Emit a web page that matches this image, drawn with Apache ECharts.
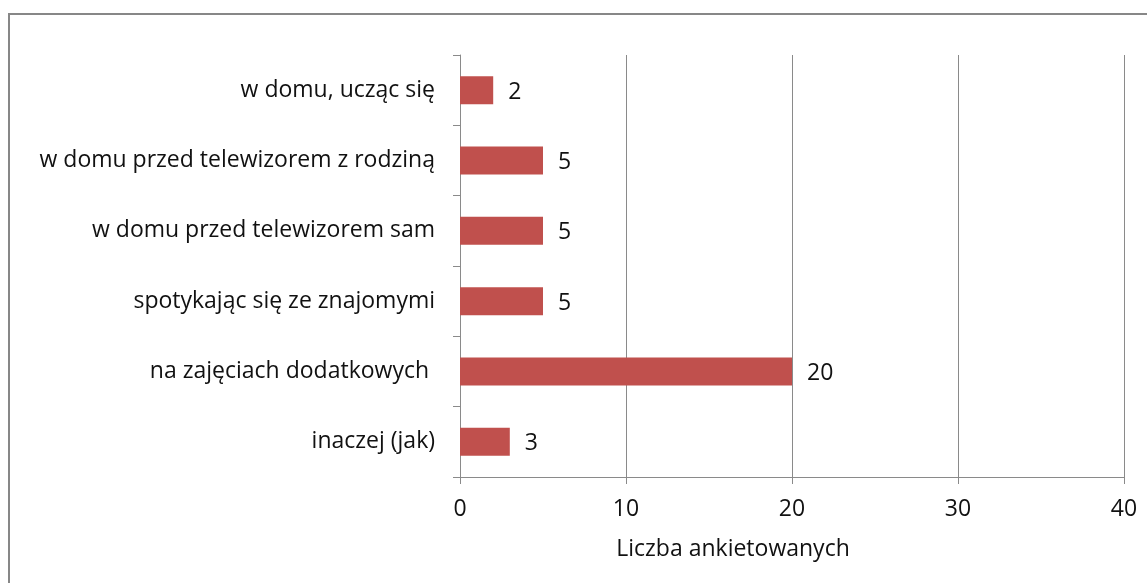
<!DOCTYPE html>
<html>
<head>
<meta charset="utf-8">
<script src="https://cdn.jsdelivr.net/npm/echarts@6/dist/echarts.min.js"></script>
<style>
  html, body { margin: 0; padding: 0; background: #fff; overflow: hidden; }
  #chart { position: absolute; left: 0; top: 0; width: 1147px; height: 583px; }
  #frame { position: absolute; left: 8px; top: 13px; width: 1300px; height: 800px;
           border-top: 2px solid #878787; border-left: 2px solid #878787; pointer-events: none; }
</style>
</head>
<body>
<div id="chart"></div>
<div id="frame"></div>
<script>
const categories = ['w domu, ucząc się', 'w domu przed telewizorem z rodziną', 'w domu przed telewizorem sam',
    'spotykając się ze znajomymi', 'na zajęciach dodatkowych ', 'inaczej (jak)'];
const values = [2, 5, 5, 5, 20, 3];
const xTicks = [0, 10, 20, 30, 40];

const font = '"Open Sans", sans-serif';
let myChart = echarts.init(document.getElementById('chart'));
let option = {
    animation: false,
    grid: { left: 460, right: 23, top: 55, bottom: 106 },
    xAxis: {
        type: 'value',
        min: xTicks[0],
        max: xTicks[xTicks.length - 1],
        interval: 10,
        name: 'Liczba ankietowanych',
        nameLocation: 'middle',
        nameGap: 61,
        nameTextStyle: { color: '#111', fontSize: 23, fontFamily: font, padding: [0, 118, 0, 0] },
        axisLine: { show: true, lineStyle: { color: '#8a8a8a', width: 1 } },
        axisTick: { show: true, length: 7, lineStyle: { color: '#8a8a8a' } },
        axisLabel: { color: '#111', fontSize: 23, fontFamily: font, margin: 21 },
        splitLine: { show: true, lineStyle: { color: '#8a8a8a', width: 1 } }
    },
    yAxis: {
        type: 'category',
        inverse: true,
        data: categories,
        axisLine: { show: true, lineStyle: { color: '#8a8a8a', width: 1 } },
        axisTick: { show: true, length: 7, lineStyle: { color: '#8a8a8a' } },
        axisLabel: { color: '#111', fontSize: 23, fontFamily: font, margin: 25, padding: [4, 0, 0, 0] }
    },
    series: [
        {
            type: 'bar',
            data: values,
            barWidth: 28,
            itemStyle: { color: '#C0504D' },
            label: { show: true, position: 'right', distance: 15, offset: [0, 2], color: '#111', fontSize: 23, fontFamily: font }
        }
    ]
};
myChart.setOption(option);
</script>
</body>
</html>
